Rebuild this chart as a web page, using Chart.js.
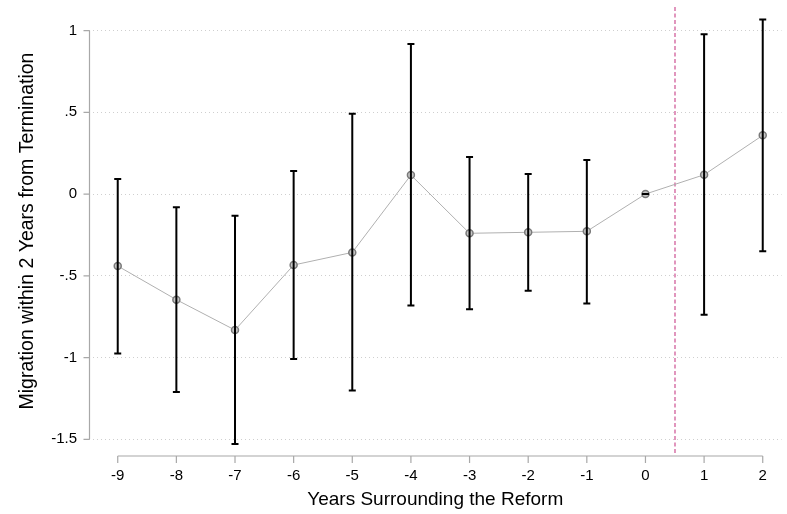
<!DOCTYPE html>
<html>
<head>
<meta charset="utf-8">
<script src="https://cdn.jsdelivr.net/npm/chart.js@4"></script>
<style>
  html, body { margin: 0; padding: 0; background: #fff; }
  #wrap { width: 787px; height: 514px; }
</style>
</head>
<body>
<div id="wrap"><canvas id="c" width="787" height="514"></canvas></div>
<script>
// ---- data ----
const years = [-9, -8, -7, -6, -5, -4, -3, -2, -1, 0, 1, 2];
const coef  = [-0.440, -0.646, -0.832, -0.434, -0.357, 0.116, -0.240, -0.234, -0.228, 0.000, 0.118, 0.359];
const lower = [-0.975, -1.211, -1.529, -1.009, -1.201, -0.681, -0.705, -0.591, -0.669, 0.000, -0.738, -0.350];
const upper = [ 0.092, -0.081, -0.132,  0.141,  0.491,  0.917,  0.226,  0.122,  0.208, 0.000,  0.977,  1.068];
const yTickValues = [1, 0.5, 0, -0.5, -1, -1.5];
const yTickLabels = ["1", ".5", "0", "-.5", "-1", "-1.5"];
const xTickLabels = ["-9", "-8", "-7", "-6", "-5", "-4", "-3", "-2", "-1", "0", "1", "2"];
const reformLine = 0.5;

const FONT = "'Liberation Sans', Arial, Helvetica, sans-serif";
const AXIS_COLOR = '#a8a8a8';

const points = years.map((x, i) => ({ x: x, y: coef[i] }));

const refLinePlugin = {
  id: 'refLine',
  beforeDatasetsDraw(chart) {
    const { ctx, chartArea, scales } = chart;
    const px = scales.x.getPixelForValue(reformLine);
    ctx.save();
    ctx.strokeStyle = '#d46aa2';
    ctx.lineWidth = 1.4;
    ctx.setLineDash([4, 2.5]);
    ctx.beginPath();
    ctx.moveTo(Math.round(px), chartArea.top);
    ctx.lineTo(Math.round(px), chartArea.bottom);
    ctx.stroke();
    ctx.restore();
  }
};

const errorBarPlugin = {
  id: 'errorBars',
  afterDatasetsDraw(chart) {
    const { ctx, scales } = chart;
    ctx.save();
    ctx.strokeStyle = '#000';
    ctx.lineWidth = 2;
    ctx.lineCap = 'butt';
    years.forEach((yr, i) => {
      const x = scales.x.getPixelForValue(yr);
      const yl = scales.y.getPixelForValue(lower[i]);
      const yh = scales.y.getPixelForValue(upper[i]);
      ctx.beginPath();
      ctx.moveTo(x, yl); ctx.lineTo(x, yh);
      ctx.moveTo(x - 3.5, yl); ctx.lineTo(x + 3.5, yl);
      ctx.moveTo(x - 3.5, yh); ctx.lineTo(x + 3.5, yh);
      ctx.stroke();
    });
    ctx.restore();
  }
};

const axesPlugin = {
  id: 'stataAxes',
  afterDraw(chart) {
    const { ctx, chartArea, scales } = chart;
    const xs = scales.x, ys = scales.y;
    ctx.save();
    ctx.strokeStyle = AXIS_COLOR;
    ctx.lineWidth = 1.2;
    const axX = chartArea.left + 0.5;
    const yTop = ys.getPixelForValue(yTickValues[0]);
    const yBot = ys.getPixelForValue(yTickValues[yTickValues.length - 1]);
    ctx.beginPath();
    ctx.moveTo(axX, yTop); ctx.lineTo(axX, yBot);
    yTickValues.forEach(v => {
      const p = ys.getPixelForValue(v);
      ctx.moveTo(axX - 6, p); ctx.lineTo(axX, p);
    });
    ctx.stroke();
    const axY = chartArea.bottom + 1;
    const xL = xs.getPixelForValue(years[0]);
    const xR = xs.getPixelForValue(years[years.length - 1]);
    ctx.beginPath();
    ctx.moveTo(xL, axY); ctx.lineTo(xR, axY);
    years.forEach(v => {
      const p = xs.getPixelForValue(v);
      ctx.moveTo(p, axY); ctx.lineTo(p, axY + 7);
    });
    ctx.stroke();
    ctx.restore();
  }
};

new Chart(document.getElementById('c'), {
  type: 'line',
  data: {
    datasets: [{
      data: points,
      borderColor: '#b0b0b0',
      borderWidth: 1,
      pointRadius: 3.5,
      pointBorderWidth: 1.5,
      pointBorderColor: '#7a7a7a',
      pointBackgroundColor: '#c8c8c8',
      tension: 0,
      fill: false
    }]
  },
  options: {
    responsive: false,
    animation: false,
    devicePixelRatio: 1,
    layout: { padding: { top: 7, right: 1, left: 0, bottom: 0 } },
    plugins: { legend: { display: false }, tooltip: { enabled: false } },
    scales: {
      x: {
        type: 'linear',
        min: -9.49,
        max: 2.32,
        afterBuildTicks(scale) { scale.ticks = years.map(v => ({ value: v })); },
        afterFit(scale) {
          scale.height = 59;
          scale.paddingLeft = 0; scale.paddingRight = 0;
          scale.paddingTop = 0; scale.paddingBottom = 0;
        },
        border: { display: false },
        grid: { display: false, drawTicks: false },
        ticks: {
          autoSkip: false,
          maxRotation: 0,
          padding: 12,
          color: '#000',
          font: { family: FONT, size: 15 },
          callback: (v) => { const i = years.indexOf(v); return i >= 0 ? xTickLabels[i] : ''; }
        },
        title: {
          display: true,
          text: 'Years Surrounding the Reform',
          color: '#000',
          font: { family: FONT, size: 19 },
          padding: { top: 0, bottom: 2.5 }
        }
      },
      y: {
        type: 'linear',
        min: -1.596,
        max: 1.144,
        afterBuildTicks(scale) { scale.ticks = yTickValues.map(v => ({ value: v })); },
        afterFit(scale) {
          scale.width = 89;
          scale.paddingLeft = 0; scale.paddingRight = 0;
          scale.paddingTop = 0; scale.paddingBottom = 0;
        },
        border: { display: false, dash: [1, 3] },
        grid: {
          drawTicks: false,
          color: '#cfcfcf',
          lineWidth: 1
        },
        ticks: {
          autoSkip: false,
          padding: 12,
          color: '#000',
          font: { family: FONT, size: 15 },
          callback: (v) => { const i = yTickValues.indexOf(v); return i >= 0 ? yTickLabels[i] : ''; }
        },
        title: {
          display: true,
          text: 'Migration within 2 Years from Termination',
          color: '#000',
          font: { family: FONT, size: 19.5 },
          padding: { top: 16, bottom: 0 }
        }
      }
    }
  },
  plugins: [refLinePlugin, errorBarPlugin, axesPlugin]
});
</script>
</body>
</html>
